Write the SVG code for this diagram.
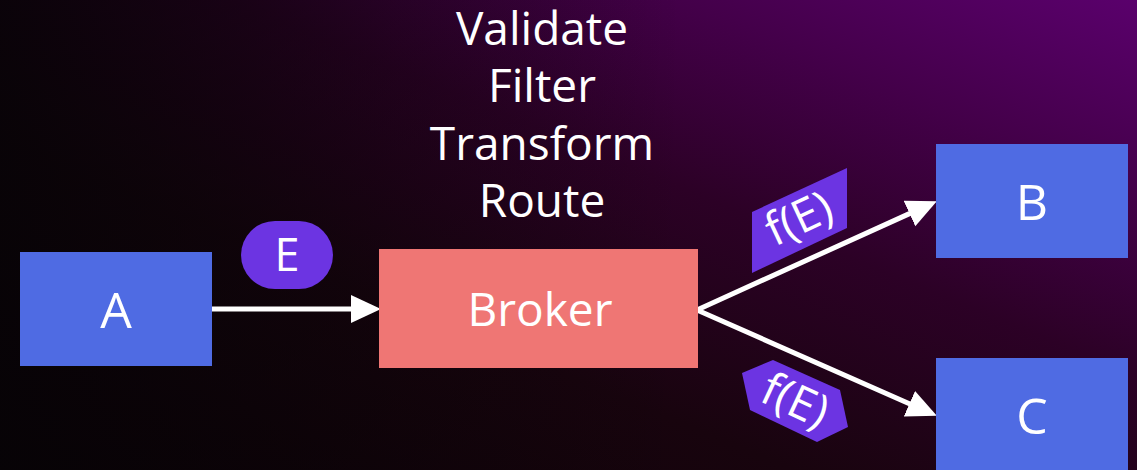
<svg xmlns="http://www.w3.org/2000/svg" width="1137" height="470" viewBox="0 0 1137 470">
  <defs>
    <linearGradient id="bgGrad" x1="0" y1="1" x2="1" y2="0">
      <stop offset="0" stop-color="#0c0206"/>
      <stop offset="0.35" stop-color="#18040e"/>
      <stop offset="0.6" stop-color="#2c0126"/>
      <stop offset="0.8" stop-color="#44004a"/>
      <stop offset="1" stop-color="#5a006c"/>
    </linearGradient>
    <linearGradient id="leftShade" x1="0" y1="0" x2="1" y2="0">
      <stop offset="0" stop-color="#060306" stop-opacity="0.85"/>
      <stop offset="0.35" stop-color="#060306" stop-opacity="0.3"/>
      <stop offset="0.6" stop-color="#060306" stop-opacity="0"/>
    </linearGradient>
    <marker id="head" viewBox="0 -15 31 30" markerWidth="31" markerHeight="30" refX="0" refY="0" orient="auto" markerUnits="userSpaceOnUse">
      <path d="M0,-14 L30,0 L0,14 Z" fill="#ffffff"/>
    </marker>
    <style>
      .box { fill: #4f6be3; }
      .broker { fill: #ef7674; }
      .tag { fill: #6c34e2; }
      .label { font-family: "Open Sans", "Liberation Sans", sans-serif; fill: #ffffff; text-anchor: middle; }
      .big { font-size: 50px; }
      .mid { font-size: 46px; }
      .edge { fill: none; stroke: #ffffff; stroke-width: 5; stroke-linecap: round; stroke-linejoin: round; marker-end: url(#head); }
    </style>
  </defs>

  <!-- backdrop -->
  <rect x="0" y="0" width="1137" height="470" fill="url(#bgGrad)"/>
  <rect x="0" y="0" width="1137" height="470" fill="url(#leftShade)"/>

  <!-- processing steps above the broker -->
  <g id="steps" class="label mid">
    <text x="542" y="45">Validate</text>
    <text x="542" y="102">Filter</text>
    <text x="542" y="160">Transform</text>
    <text x="542" y="217">Route</text>
  </g>

  <!-- connectors -->
  <g id="connectors">
    <path class="edge" d="M211,309 L351,309"/>
    <path class="edge" d="M697,310 L909.5,213.6"/>
    <path class="edge" d="M697,310 L909.4,403.7"/>
  </g>

  <!-- event tags on the connectors -->
  <g id="event-e">
    <rect class="tag" x="241" y="221" width="92" height="68" rx="34"/>
    <text class="label" x="287" y="271" font-size="45">E</text>
  </g>
  <g id="event-fe-upper">
    <polygon class="tag" points="752,212 847,168 847,228 752,273"/>
    <text class="label" font-size="46" transform="translate(799,219) rotate(-25)" y="15">f(E)</text>
  </g>
  <g id="event-fe-lower">
    <polygon class="tag" points="742,373 773,360 840,390 848,427 817,442 750,410"/>
    <text class="label" font-size="46" transform="translate(795,401) rotate(25)" y="15">f(E)</text>
  </g>

  <!-- nodes -->
  <g id="node-a">
    <rect class="box" x="20" y="252" width="192" height="114"/>
    <text class="label big" x="116" y="328">A</text>
  </g>
  <g id="node-broker">
    <rect class="broker" x="379" y="249" width="319" height="119"/>
    <text class="label mid" x="540" y="326">Broker</text>
  </g>
  <g id="node-b">
    <rect class="box" x="936" y="144" width="192" height="114"/>
    <text class="label big" x="1032" y="220">B</text>
  </g>
  <g id="node-c">
    <rect class="box" x="936" y="358" width="192" height="114"/>
    <text class="label big" x="1032" y="434">C</text>
  </g>
</svg>
